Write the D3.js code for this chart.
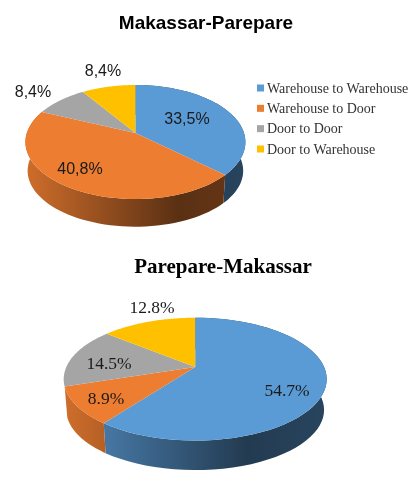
<!DOCTYPE html>
<html>
<head>
<meta charset="utf-8">
<script src="https://cdn.jsdelivr.net/npm/d3@7"></script>
<style>
  html, body { margin: 0; padding: 0; background: #fff; }
  svg { display: block; filter: blur(0.35px); }
</style>
</head>
<body>
<svg id="chart" width="419" height="480"></svg>
<script>
// Data
const categories = ['Warehouse to Warehouse', 'Warehouse to Door', 'Door to Door', 'Door to Warehouse'];
const colors = ['#5b9bd5', '#ed7d31', '#a5a5a5', '#ffc000'];
const makassarValues = [33.5, 40.8, 8.4, 8.4];
const makassarLabels = ['33,5%', '40,8%', '8,4%', '8,4%'];
const parepareValues = [54.7, 8.9, 14.5, 12.8];
const parepareLabels = ['54.7%', '8.9%', '14.5%', '12.8%'];

// Layout of the two pies; k is the perspective strength
const pies = [
  {
    id: 'a', title: 'Makassar-Parepare', values: makassarValues, labels: makassarLabels,
    cx: 135.4, cy: 133, R: 108.6, a: 55.6, k: 0.158, depth: 29,
    labelFont: 'Liberation Sans', labelSize: 16,
    labelAt: [[187, 124], [80, 174], [103, 76], [33, 97]],
    titleFont: 'Liberation Sans', titleSize: 19, titleAt: [206, 29]
  },
  {
    id: 'b', title: 'Parepare-Makassar', values: parepareValues, labels: parepareLabels,
    cx: 195.2, cy: 367, R: 128.9, a: 59, k: 0.198, depth: 31,
    labelFont: 'Liberation Serif', labelSize: 17.5,
    labelAt: [[287, 396], [106, 404], [109, 369], [152, 313]],
    titleFont: 'Liberation Serif', titleSize: 21, titleAt: [223, 273]
  }
];

const svg = d3.select('#chart');
const defs = svg.append('defs');

// Side wall shading, left to right, as a fraction of the base colour
const wallStops = [[0, 0.87], [0.7, 0.38], [1, 0.44]];

function shade(color, f) {
  const c = d3.rgb(color);
  return d3.rgb(c.r * f, c.g * f, c.b * f).formatHex();
}

pies.forEach(p => {
  const g = svg.append('g');
  const slices = d3.pie().sort(null)(p.values);

  // Circle angle to screen position, far side is squeezed by perspective
  const project = (t, scale, dy) => {
    const s = scale / (1 + p.k * Math.cos(t));
    return [p.cx + p.R * Math.sin(t) * s, p.cy - p.a * Math.cos(t) * s + dy];
  };
  const line = d3.line();
  const rim = (d, scale, dy) => d3.range(0, 61).map(i =>
    project(d.startAngle + (d.endAngle - d.startAngle) * i / 60, scale, dy));

  // Only the first two slices show a wall, the others sit at the back
  slices.slice(0, 2).forEach((d, i) => {
    const gradId = `wall-${p.id}-${i}`;
    const grad = defs.append('linearGradient')
      .attr('id', gradId)
      .attr('gradientUnits', 'userSpaceOnUse')
      .attr('x1', p.cx - p.R).attr('x2', p.cx + p.R)
      .attr('y1', 0).attr('y2', 0);
    wallStops.forEach(s => {
      grad.append('stop')
        .attr('offset', s[0])
        .attr('stop-color', shade(colors[i], s[1]));
    });

    const top = rim(d, 1, 0);
    const bottom = rim(d, 0.98, p.depth).reverse();
    g.append('path')
      .attr('d', line(top.concat(bottom)) + 'Z')
      .attr('fill', `url(#${gradId})`);
  });

  slices.forEach((d, i) => {
    g.append('path')
      .attr('d', line([[p.cx, p.cy]].concat(rim(d, 1, 0))) + 'Z')
      .attr('fill', colors[i]);
  });

  g.selectAll('text.label')
    .data(p.labels)
    .join('text')
    .attr('class', 'label')
    .attr('x', (d, i) => p.labelAt[i][0])
    .attr('y', (d, i) => p.labelAt[i][1])
    .attr('text-anchor', 'middle')
    .attr('font-family', p.labelFont)
    .attr('font-size', p.labelSize)
    .attr('fill', '#1a1a1a')
    .text(d => d);

  svg.append('text')
    .attr('x', p.titleAt[0])
    .attr('y', p.titleAt[1])
    .attr('text-anchor', 'middle')
    .attr('font-family', p.titleFont)
    .attr('font-size', p.titleSize)
    .attr('font-weight', 'bold')
    .attr('fill', '#000')
    .text(p.title);
});

// ---------- Legend ----------
const legendY = d3.scalePoint().domain(categories).range([88, 149]);
const legend = svg.append('g').selectAll('g')
  .data(categories)
  .join('g')
  .attr('transform', d => `translate(257,${legendY(d)})`);

legend.append('rect')
  .attr('x', 0).attr('y', -3.5)
  .attr('width', 7).attr('height', 7)
  .attr('fill', (d, i) => colors[i]);

legend.append('text')
  .attr('x', 10).attr('y', 4.5)
  .attr('font-family', 'Liberation Serif')
  .attr('font-size', 14)
  .attr('fill', '#333')
  .text(d => d);
</script>
</body>
</html>
